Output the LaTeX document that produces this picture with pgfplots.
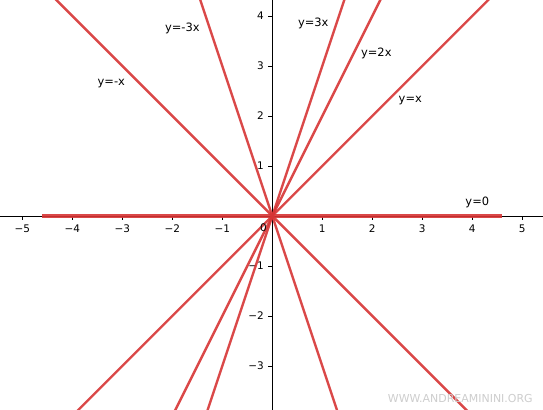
\documentclass[border=0pt]{standalone}
\usepackage{fontspec}
\setmainfont{DejaVu Sans}
\usepackage{pgfplots}
\pgfplotsset{compat=1.18}
\definecolor{linered}{RGB}{214,52,52}
\definecolor{wmgray}{RGB}{205,205,205}
\begin{document}
\begin{tikzpicture}
\begin{axis}[
  name=ax,
  scale only axis,
  width=543bp, height=410bp,
  axis lines=middle,
  xmin=-5.446, xmax=5.414,
  ymin=-3.88, ymax=4.32,
  xtick={-5,-4,-3,-2,-1,1,2,3,4,5},
  xticklabels={−5,−4,−3,−2,−1,1,2,3,4,5},
  ytick={-3,-2,-1,1,2,3,4},
  yticklabels={−3,−2,−1,1,2,3,4},
  tick align=outside,
  major tick length=4bp,
  tick style={black, line width=0.6pt},
  axis line style={black, line width=0.8pt, -},
  ticklabel style={font=\fontsize{10.5}{12}\selectfont},
  xticklabel style={yshift=-1bp},
  yticklabel style={xshift=-1bp},
  ln/.style={linered, opacity=0.9, line width=2.4bp, mark=none},
]
% y = 0
\addplot[ln, line width=3.2bp] coordinates {(-4.6,0) (4.6,0)};
% y = x
\addplot[ln] coordinates {(-4.6,-4.6) (4.6,4.6)};
% y = 2x
\addplot[ln] coordinates {(-4.6,-9.2) (4.6,9.2)};
% y = 3x
\addplot[ln] coordinates {(-4.6,-13.8) (4.6,13.8)};
% y = -x
\addplot[ln] coordinates {(-4.6,4.6) (4.6,-4.6)};
% y = -3x
\addplot[ln] coordinates {(-4.6,13.8) (4.6,-13.8)};

\node[font=\fontsize{10.5}{12}\selectfont, anchor=north east] at (axis cs:-0.04,-0.08) {0};

\begin{scope}[font=\fontsize{11.5}{13}\selectfont]
\node at (axis cs:-1.8,3.76) {y=-3x};
\node at (axis cs:0.82,3.86) {y=3x};
\node at (axis cs:2.08,3.26) {y=2x};
\node at (axis cs:2.76,2.30) {y=x};
\node at (axis cs:-3.22,2.64) {y=-x};
\node at (axis cs:4.10,0.28) {y=0};
\end{scope}

\node[text=wmgray, font=\fontsize{11}{13}\selectfont] at (axis cs:3.76,-3.66) {WWW.ANDREAMININI.ORG};
\end{axis}
\pgfresetboundingbox
\useasboundingbox (ax.south west) rectangle (ax.north east);
\end{tikzpicture}
\end{document}
